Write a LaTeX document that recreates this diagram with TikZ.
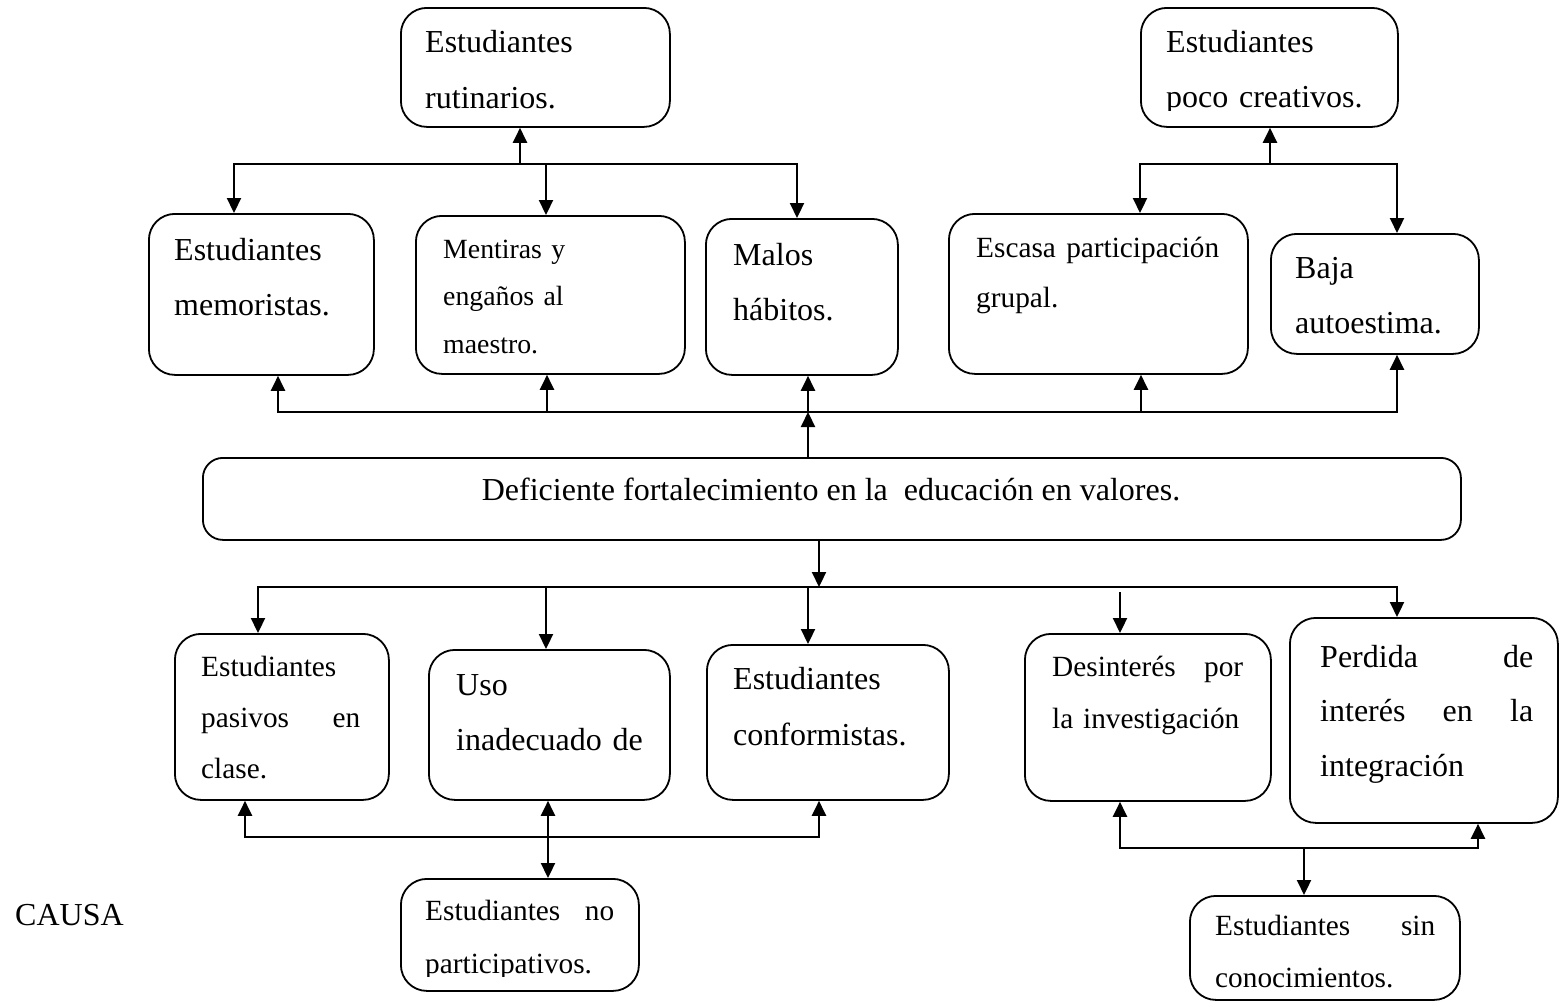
\documentclass[tikz,border=0pt]{standalone}
\usepackage{fontspec}
\setmainfont{Liberation Serif}
\usetikzlibrary{arrows.meta}
\tikzset{
  box/.style={draw, line width=1.8pt, rounded corners=26pt, inner sep=0pt, anchor=north west},
  txt/.style={inner sep=0pt, anchor=base west, align=left},
  ln/.style={line width=2.2pt, line cap=rect},
  arr/.style={line width=2.2pt, -{Triangle[width=14pt,length=15pt]}},
}
\newcommand{\fbig}[1]{\fontsize{32pt}{#1pt}\selectfont}
\newcommand{\fmid}[1]{\fontsize{29.3pt}{#1pt}\selectfont}
\newcommand{\fsml}[1]{\fontsize{27.8pt}{#1pt}\selectfont}
\begin{document}
\begin{tikzpicture}[x=1pt,y=-1pt]
\useasboundingbox (0,0) rectangle (1560,1002);

% ---------- boxes ----------
\node[box, minimum width=269pt, minimum height=119pt] (rut) at (400,7) {};
\node[box, minimum width=257pt, minimum height=119pt] (cre) at (1140,7) {};
\node[box, minimum width=225pt, minimum height=161pt] (mem) at (148,213) {};
\node[box, minimum width=269pt, minimum height=158pt] (men) at (415,215) {};
\node[box, minimum width=192pt, minimum height=156pt] (mal) at (705,218) {};
\node[box, minimum width=299pt, minimum height=160pt] (esc) at (948,213) {};
\node[box, minimum width=208pt, minimum height=120pt] (baj) at (1270,233) {};
\node[box, rounded corners=20pt, minimum width=1258pt, minimum height=82pt] (cen) at (202,457) {};
\node[box, minimum width=214pt, minimum height=166pt] (pas) at (174,633) {};
\node[box, minimum width=241pt, minimum height=150pt] (uso) at (428,649) {};
\node[box, minimum width=242pt, minimum height=155pt] (con) at (706,644) {};
\node[box, minimum width=246pt, minimum height=167pt] (des) at (1024,633) {};
\node[box, minimum width=268pt, minimum height=205pt] (per) at (1289,617) {};
\node[box, minimum width=238pt, minimum height=112pt] (par) at (400,878) {};
\node[box, minimum width=270pt, minimum height=104pt] (sin) at (1189,895) {};

% ---------- texts ----------
\node[txt, text width=230pt, font=\fbig{56}] (trut) at (425,52) {Estudiantes\\rutinarios.};
\begin{scope}
\clip (1140,0) rectangle (1400,110);
\node[txt, text width=220pt, font=\fbig{55}] (tcre) at (1166,52) {Estudiantes\\poco creativos.};
\end{scope}
\node[txt, text width=190pt, font=\fbig{55}] (tmem) at (174,260) {Estudiantes\\memoristas.};
\node[txt, text width=220pt, font=\fsml{47.5}] (tmen) at (443,258) {Mentiras y\\engaños al\\maestro.};
\node[txt, text width=160pt, font=\fbig{55}] (tmal) at (733,265) {Malos\\hábitos.};
\node[txt, text width=243pt, font=\fmid{50}] (tesc) at (976,257) {Escasa\hfill participación\\grupal.};
\node[txt, text width=175pt, font=\fbig{55}] (tbaj) at (1295,278) {Baja\\autoestima.};
\node[inner sep=0pt, anchor=base, font=\fbig{40}] (tcen) at (831,500) {Deficiente fortalecimiento en la\ \ educación en valores.};
\node[txt, text width=159pt, font=\fmid{51}] (tpas) at (201,676) {Estudiantes\\pasivos\hfill en\\clase.};
\node[txt, text width=200pt, font=\fbig{55}] (tuso) at (456,695) {Uso\\inadecuado de};
\node[txt, text width=205pt, font=\fbig{56}] (tcon) at (733,689) {Estudiantes\\conformistas.};
\node[txt, text width=191pt, font=\fmid{52}] (tdes) at (1052,676) {Desinterés\hfill por\\la investigación};
\node[txt, text width=213pt, font=\fbig{54.5}] (tper) at (1320,667) {Perdida\hfill de\\interés\hfill en\hfill la\\integración};
\begin{scope}
\clip (395,860) rectangle (645,976);
\node[txt, text width=189pt, font=\fmid{53}] (tpar) at (425,920) {Estudiantes\hfill no\\participativos.};
\end{scope}
\node[txt, text width=220pt, font=\fmid{52}] (tsin) at (1215,935) {Estudiantes\hfill sin\\conocimientos.};
\node[txt, font=\fbig{40}] (causa) at (15,925) {CAUSA};

% ---------- junction coordinates ----------
\coordinate (a1) at (234,164);
\coordinate (a2) at (546,164);
\coordinate (a3) at (797,164);
\coordinate (ar) at (520,164);
\coordinate (b1) at (1140,164);
\coordinate (b2) at (1397,164);
\coordinate (br) at (1270,164);
\coordinate (c1) at (278,412);
\coordinate (c2) at (547,412);
\coordinate (c3) at (808,412);
\coordinate (c4) at (1141,412);
\coordinate (c5) at (1397,412);
\coordinate (d0) at (819,587);
\coordinate (d1) at (258,587);
\coordinate (d2) at (546,587);
\coordinate (d3) at (808,587);
\coordinate (d4) at (1397,587);
\coordinate (d5) at (1120,592);
\coordinate (e1) at (245,837);
\coordinate (e2) at (548,837);
\coordinate (e3) at (819,837);
\coordinate (f1) at (1120,848);
\coordinate (f2) at (1304,848);
\coordinate (f3) at (1478,848);

% ---------- top left group ----------
\draw[ln] (a1) -- (a3);
\draw[arr] (a1) -- (a1 |- mem.north);
\draw[arr] (a2) -- (a2 |- men.north);
\draw[arr] (a3) -- (a3 |- mal.north);
\draw[arr] (ar) -- (ar |- rut.south);

% ---------- top right group ----------
\draw[ln] (b1) -- (b2);
\draw[arr] (b1) -- (b1 |- esc.north);
\draw[arr] (b2) -- (b2 |- baj.north);
\draw[arr] (br) -- (br |- cre.south);

% ---------- upper bus ----------
\draw[ln] (c1) -- (c5);
\draw[arr] (c1) -- (c1 |- mem.south);
\draw[arr] (c2) -- (c2 |- men.south);
\draw[arr] (c3) -- (c3 |- mal.south);
\draw[arr] (c4) -- (c4 |- esc.south);
\draw[arr] (c5) -- (c5 |- baj.south);
\draw[arr] (c3 |- cen.north) -- (c3);

% ---------- lower bus ----------
\draw[arr] (d0 |- cen.south) -- (d0);
\draw[ln] (d1) -- (d4);
\draw[arr] (d1) -- (d1 |- pas.north);
\draw[arr] (d2) -- (d2 |- uso.north);
\draw[arr] (d3) -- (d3 |- con.north);
\draw[arr] (d4) -- (d4 |- per.north);
\draw[arr] (d5) -- (d5 |- des.north);

% ---------- bottom left group ----------
\draw[ln] (e1) -- (e3);
\draw[arr] (e1) -- (e1 |- pas.south);
\draw[arr] (e2) -- (e2 |- uso.south);
\draw[arr] (e3) -- (e3 |- con.south);
\draw[arr] (e2) -- (e2 |- par.north);

% ---------- bottom right group ----------
\draw[ln] (f1) -- (f3);
\draw[arr] (f1) -- (f1 |- des.south);
\draw[arr] (f3) -- (f3 |- per.south);
\draw[arr] (f2) -- (f2 |- sin.north);
\end{tikzpicture}
\end{document}
